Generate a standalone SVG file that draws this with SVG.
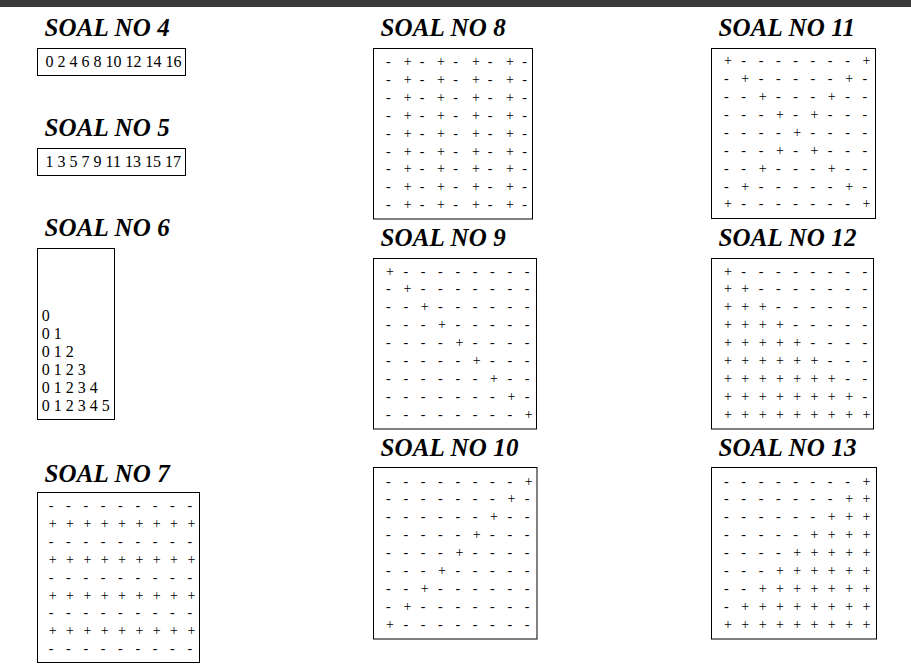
<svg xmlns="http://www.w3.org/2000/svg" width="911" height="671" viewBox="0 0 911 671">
<style>
.bg{fill:#ffffff}
.bar{fill:#3a3a3a}
.title{font-family:"Liberation Serif","Times New Roman",serif;font-size:25px;font-weight:bold;font-style:italic;letter-spacing:0.15px;fill:#000}
.box{fill:none;stroke:#000;stroke-width:1}
.num{font-family:"Liberation Serif","Times New Roman",serif;font-size:16px;fill:#000}
.g{font-family:"Liberation Serif","Times New Roman",serif;font-size:14px;fill:#000}
</style>
<rect class="bg" x="0" y="0" width="911" height="671"/>
<rect class="bar" x="0" y="0" width="911" height="7"/>

<g id="soal-4">
<text class="title" x="44.5" y="36">SOAL NO 4</text>
<rect class="box" x="37.5" y="48.5" width="148" height="27"/>
<text class="num" x="45.5" y="66.5">0 2 4 6 8 10 12 14 16</text>
</g>

<g id="soal-5">
<text class="title" x="44.5" y="136">SOAL NO 5</text>
<rect class="box" x="37.5" y="148.5" width="148" height="27"/>
<text class="num" x="45.5" y="166.5">1 3 5 7 9 11 13 15 17</text>
</g>

<g id="soal-6">
<text class="title" x="44.5" y="235.5">SOAL NO 6</text>
<rect class="box" x="37.5" y="248.5" width="77" height="171"/>
<text class="num" x="41.8" y="320.5">0</text>
<text class="num" x="41.8" y="338.5">0 1</text>
<text class="num" x="41.8" y="356.5">0 1 2</text>
<text class="num" x="41.8" y="374.5">0 1 2 3</text>
<text class="num" x="41.8" y="392.5">0 1 2 3 4</text>
<text class="num" x="41.8" y="410.5">0 1 2 3 4 5</text>
</g>

<g id="soal-7">
<text class="title" x="44.5" y="481.5">SOAL NO 7</text>
<rect class="box" x="37.5" y="492.5" width="162" height="170"/>
<text class="g" x="48.75 57.42 66.08 74.75 83.42 92.08 100.75 109.42 118.08 126.75 135.42 144.08 152.75 161.42 170.08 178.75 187.42" y="510">- - - - - - - - -</text>
<text class="g" x="48.75 57.42 66.08 74.75 83.42 92.08 100.75 109.42 118.08 126.75 135.42 144.08 152.75 161.42 170.08 178.75 187.42" y="527.9">+ + + + + + + + +</text>
<text class="g" x="48.75 57.42 66.08 74.75 83.42 92.08 100.75 109.42 118.08 126.75 135.42 144.08 152.75 161.42 170.08 178.75 187.42" y="545.8">- - - - - - - - -</text>
<text class="g" x="48.75 57.42 66.08 74.75 83.42 92.08 100.75 109.42 118.08 126.75 135.42 144.08 152.75 161.42 170.08 178.75 187.42" y="563.7">+ + + + + + + + +</text>
<text class="g" x="48.75 57.42 66.08 74.75 83.42 92.08 100.75 109.42 118.08 126.75 135.42 144.08 152.75 161.42 170.08 178.75 187.42" y="581.6">- - - - - - - - -</text>
<text class="g" x="48.75 57.42 66.08 74.75 83.42 92.08 100.75 109.42 118.08 126.75 135.42 144.08 152.75 161.42 170.08 178.75 187.42" y="599.5">+ + + + + + + + +</text>
<text class="g" x="48.75 57.42 66.08 74.75 83.42 92.08 100.75 109.42 118.08 126.75 135.42 144.08 152.75 161.42 170.08 178.75 187.42" y="617.4">- - - - - - - - -</text>
<text class="g" x="48.75 57.42 66.08 74.75 83.42 92.08 100.75 109.42 118.08 126.75 135.42 144.08 152.75 161.42 170.08 178.75 187.42" y="635.3">+ + + + + + + + +</text>
<text class="g" x="48.75 57.42 66.08 74.75 83.42 92.08 100.75 109.42 118.08 126.75 135.42 144.08 152.75 161.42 170.08 178.75 187.42" y="653.2">- - - - - - - - -</text>
</g>

<g id="soal-8">
<text class="title" x="380.5" y="36">SOAL NO 8</text>
<rect class="box" x="373.5" y="48.5" width="159" height="170.5"/>
<text class="g" x="386 395 403.75 412 419.7 428 437 445 453.2 462 472 480 487.7 497 506 514 522.2" y="66">- + - + - + - + -</text>
<text class="g" x="386 395 403.75 412 419.7 428 437 445 453.2 462 472 480 487.7 497 506 514 522.2" y="83.9">- + - + - + - + -</text>
<text class="g" x="386 395 403.75 412 419.7 428 437 445 453.2 462 472 480 487.7 497 506 514 522.2" y="101.8">- + - + - + - + -</text>
<text class="g" x="386 395 403.75 412 419.7 428 437 445 453.2 462 472 480 487.7 497 506 514 522.2" y="119.7">- + - + - + - + -</text>
<text class="g" x="386 395 403.75 412 419.7 428 437 445 453.2 462 472 480 487.7 497 506 514 522.2" y="137.6">- + - + - + - + -</text>
<text class="g" x="386 395 403.75 412 419.7 428 437 445 453.2 462 472 480 487.7 497 506 514 522.2" y="155.5">- + - + - + - + -</text>
<text class="g" x="386 395 403.75 412 419.7 428 437 445 453.2 462 472 480 487.7 497 506 514 522.2" y="173.4">- + - + - + - + -</text>
<text class="g" x="386 395 403.75 412 419.7 428 437 445 453.2 462 472 480 487.7 497 506 514 522.2" y="191.3">- + - + - + - + -</text>
<text class="g" x="386 395 403.75 412 419.7 428 437 445 453.2 462 472 480 487.7 497 506 514 522.2" y="209.2">- + - + - + - + -</text>
</g>

<g id="soal-9">
<text class="title" x="380.5" y="246">SOAL NO 9</text>
<rect class="box" x="373.5" y="258.5" width="163" height="170.5"/>
<text class="g" x="386.05 394.72 403.38 412.05 420.72 429.38 438.05 446.72 455.38 464.05 472.72 481.38 490.05 498.72 507.38 516.05 524.72" y="275.5">+ - - - - - - - -</text>
<text class="g" x="386.05 394.72 403.38 412.05 420.72 429.38 438.05 446.72 455.38 464.05 472.72 481.38 490.05 498.72 507.38 516.05 524.72" y="293.4">- + - - - - - - -</text>
<text class="g" x="386.05 394.72 403.38 412.05 420.72 429.38 438.05 446.72 455.38 464.05 472.72 481.38 490.05 498.72 507.38 516.05 524.72" y="311.3">- - + - - - - - -</text>
<text class="g" x="386.05 394.72 403.38 412.05 420.72 429.38 438.05 446.72 455.38 464.05 472.72 481.38 490.05 498.72 507.38 516.05 524.72" y="329.2">- - - + - - - - -</text>
<text class="g" x="386.05 394.72 403.38 412.05 420.72 429.38 438.05 446.72 455.38 464.05 472.72 481.38 490.05 498.72 507.38 516.05 524.72" y="347.1">- - - - + - - - -</text>
<text class="g" x="386.05 394.72 403.38 412.05 420.72 429.38 438.05 446.72 455.38 464.05 472.72 481.38 490.05 498.72 507.38 516.05 524.72" y="365">- - - - - + - - -</text>
<text class="g" x="386.05 394.72 403.38 412.05 420.72 429.38 438.05 446.72 455.38 464.05 472.72 481.38 490.05 498.72 507.38 516.05 524.72" y="382.9">- - - - - - + - -</text>
<text class="g" x="386.05 394.72 403.38 412.05 420.72 429.38 438.05 446.72 455.38 464.05 472.72 481.38 490.05 498.72 507.38 516.05 524.72" y="400.8">- - - - - - - + -</text>
<text class="g" x="386.05 394.72 403.38 412.05 420.72 429.38 438.05 446.72 455.38 464.05 472.72 481.38 490.05 498.72 507.38 516.05 524.72" y="418.7">- - - - - - - - +</text>
</g>

<g id="soal-10">
<text class="title" x="380.5" y="456">SOAL NO 10</text>
<rect class="box" x="373.5" y="467.5" width="163.5" height="171.5"/>
<text class="g" x="386.05 394.72 403.38 412.05 420.72 429.38 438.05 446.72 455.38 464.05 472.72 481.38 490.05 498.72 507.38 516.05 524.72" y="485.5">- - - - - - - - +</text>
<text class="g" x="386.05 394.72 403.38 412.05 420.72 429.38 438.05 446.72 455.38 464.05 472.72 481.38 490.05 498.72 507.38 516.05 524.72" y="503.4">- - - - - - - + -</text>
<text class="g" x="386.05 394.72 403.38 412.05 420.72 429.38 438.05 446.72 455.38 464.05 472.72 481.38 490.05 498.72 507.38 516.05 524.72" y="521.3">- - - - - - + - -</text>
<text class="g" x="386.05 394.72 403.38 412.05 420.72 429.38 438.05 446.72 455.38 464.05 472.72 481.38 490.05 498.72 507.38 516.05 524.72" y="539.2">- - - - - + - - -</text>
<text class="g" x="386.05 394.72 403.38 412.05 420.72 429.38 438.05 446.72 455.38 464.05 472.72 481.38 490.05 498.72 507.38 516.05 524.72" y="557.1">- - - - + - - - -</text>
<text class="g" x="386.05 394.72 403.38 412.05 420.72 429.38 438.05 446.72 455.38 464.05 472.72 481.38 490.05 498.72 507.38 516.05 524.72" y="575">- - - + - - - - -</text>
<text class="g" x="386.05 394.72 403.38 412.05 420.72 429.38 438.05 446.72 455.38 464.05 472.72 481.38 490.05 498.72 507.38 516.05 524.72" y="592.9">- - + - - - - - -</text>
<text class="g" x="386.05 394.72 403.38 412.05 420.72 429.38 438.05 446.72 455.38 464.05 472.72 481.38 490.05 498.72 507.38 516.05 524.72" y="610.8">- + - - - - - - -</text>
<text class="g" x="386.05 394.72 403.38 412.05 420.72 429.38 438.05 446.72 455.38 464.05 472.72 481.38 490.05 498.72 507.38 516.05 524.72" y="628.7">+ - - - - - - - -</text>
</g>

<g id="soal-11">
<text class="title" x="718.5" y="36">SOAL NO 11</text>
<rect class="box" x="711.5" y="48.5" width="164" height="170"/>
<text class="g" x="724.05 732.7 741.35 750 758.65 767.3 775.95 784.6 793.25 801.9 810.55 819.2 827.85 836.5 845.15 853.8 862.45" y="65.2">+ - - - - - - - +</text>
<text class="g" x="724.05 732.7 741.35 750 758.65 767.3 775.95 784.6 793.25 801.9 810.55 819.2 827.85 836.5 845.15 853.8 862.45" y="83.1">- + - - - - - + -</text>
<text class="g" x="724.05 732.7 741.35 750 758.65 767.3 775.95 784.6 793.25 801.9 810.55 819.2 827.85 836.5 845.15 853.8 862.45" y="101">- - + - - - + - -</text>
<text class="g" x="724.05 732.7 741.35 750 758.65 767.3 775.95 784.6 793.25 801.9 810.55 819.2 827.85 836.5 845.15 853.8 862.45" y="118.9">- - - + - + - - -</text>
<text class="g" x="724.05 732.7 741.35 750 758.65 767.3 775.95 784.6 793.25 801.9 810.55 819.2 827.85 836.5 845.15 853.8 862.45" y="136.8">- - - - + - - - -</text>
<text class="g" x="724.05 732.7 741.35 750 758.65 767.3 775.95 784.6 793.25 801.9 810.55 819.2 827.85 836.5 845.15 853.8 862.45" y="154.7">- - - + - + - - -</text>
<text class="g" x="724.05 732.7 741.35 750 758.65 767.3 775.95 784.6 793.25 801.9 810.55 819.2 827.85 836.5 845.15 853.8 862.45" y="172.6">- - + - - - + - -</text>
<text class="g" x="724.05 732.7 741.35 750 758.65 767.3 775.95 784.6 793.25 801.9 810.55 819.2 827.85 836.5 845.15 853.8 862.45" y="190.5">- + - - - - - + -</text>
<text class="g" x="724.05 732.7 741.35 750 758.65 767.3 775.95 784.6 793.25 801.9 810.55 819.2 827.85 836.5 845.15 853.8 862.45" y="208.4">+ - - - - - - - +</text>
</g>

<g id="soal-12">
<text class="title" x="718.5" y="246">SOAL NO 12</text>
<rect class="box" x="711.5" y="258.5" width="162" height="170.5"/>
<text class="g" x="724.05 732.7 741.35 750 758.65 767.3 775.95 784.6 793.25 801.9 810.55 819.2 827.85 836.5 845.15 853.8 862.45" y="275.5">+ - - - - - - - -</text>
<text class="g" x="724.05 732.7 741.35 750 758.65 767.3 775.95 784.6 793.25 801.9 810.55 819.2 827.85 836.5 845.15 853.8 862.45" y="293.4">+ + - - - - - - -</text>
<text class="g" x="724.05 732.7 741.35 750 758.65 767.3 775.95 784.6 793.25 801.9 810.55 819.2 827.85 836.5 845.15 853.8 862.45" y="311.3">+ + + - - - - - -</text>
<text class="g" x="724.05 732.7 741.35 750 758.65 767.3 775.95 784.6 793.25 801.9 810.55 819.2 827.85 836.5 845.15 853.8 862.45" y="329.2">+ + + + - - - - -</text>
<text class="g" x="724.05 732.7 741.35 750 758.65 767.3 775.95 784.6 793.25 801.9 810.55 819.2 827.85 836.5 845.15 853.8 862.45" y="347.1">+ + + + + - - - -</text>
<text class="g" x="724.05 732.7 741.35 750 758.65 767.3 775.95 784.6 793.25 801.9 810.55 819.2 827.85 836.5 845.15 853.8 862.45" y="365">+ + + + + + - - -</text>
<text class="g" x="724.05 732.7 741.35 750 758.65 767.3 775.95 784.6 793.25 801.9 810.55 819.2 827.85 836.5 845.15 853.8 862.45" y="382.9">+ + + + + + + - -</text>
<text class="g" x="724.05 732.7 741.35 750 758.65 767.3 775.95 784.6 793.25 801.9 810.55 819.2 827.85 836.5 845.15 853.8 862.45" y="400.8">+ + + + + + + + -</text>
<text class="g" x="724.05 732.7 741.35 750 758.65 767.3 775.95 784.6 793.25 801.9 810.55 819.2 827.85 836.5 845.15 853.8 862.45" y="418.7">+ + + + + + + + +</text>
</g>

<g id="soal-13">
<text class="title" x="718.5" y="456">SOAL NO 13</text>
<rect class="box" x="711.5" y="467.5" width="165" height="171.5"/>
<text class="g" x="724.05 732.7 741.35 750 758.65 767.3 775.95 784.6 793.25 801.9 810.55 819.2 827.85 836.5 845.15 853.8 862.45" y="485.5">- - - - - - - - +</text>
<text class="g" x="724.05 732.7 741.35 750 758.65 767.3 775.95 784.6 793.25 801.9 810.55 819.2 827.85 836.5 845.15 853.8 862.45" y="503.4">- - - - - - - + +</text>
<text class="g" x="724.05 732.7 741.35 750 758.65 767.3 775.95 784.6 793.25 801.9 810.55 819.2 827.85 836.5 845.15 853.8 862.45" y="521.3">- - - - - - + + +</text>
<text class="g" x="724.05 732.7 741.35 750 758.65 767.3 775.95 784.6 793.25 801.9 810.55 819.2 827.85 836.5 845.15 853.8 862.45" y="539.2">- - - - - + + + +</text>
<text class="g" x="724.05 732.7 741.35 750 758.65 767.3 775.95 784.6 793.25 801.9 810.55 819.2 827.85 836.5 845.15 853.8 862.45" y="557.1">- - - - + + + + +</text>
<text class="g" x="724.05 732.7 741.35 750 758.65 767.3 775.95 784.6 793.25 801.9 810.55 819.2 827.85 836.5 845.15 853.8 862.45" y="575">- - - + + + + + +</text>
<text class="g" x="724.05 732.7 741.35 750 758.65 767.3 775.95 784.6 793.25 801.9 810.55 819.2 827.85 836.5 845.15 853.8 862.45" y="592.9">- - + + + + + + +</text>
<text class="g" x="724.05 732.7 741.35 750 758.65 767.3 775.95 784.6 793.25 801.9 810.55 819.2 827.85 836.5 845.15 853.8 862.45" y="610.8">- + + + + + + + +</text>
<text class="g" x="724.05 732.7 741.35 750 758.65 767.3 775.95 784.6 793.25 801.9 810.55 819.2 827.85 836.5 845.15 853.8 862.45" y="628.7">+ + + + + + + + +</text>
</g>
</svg>
